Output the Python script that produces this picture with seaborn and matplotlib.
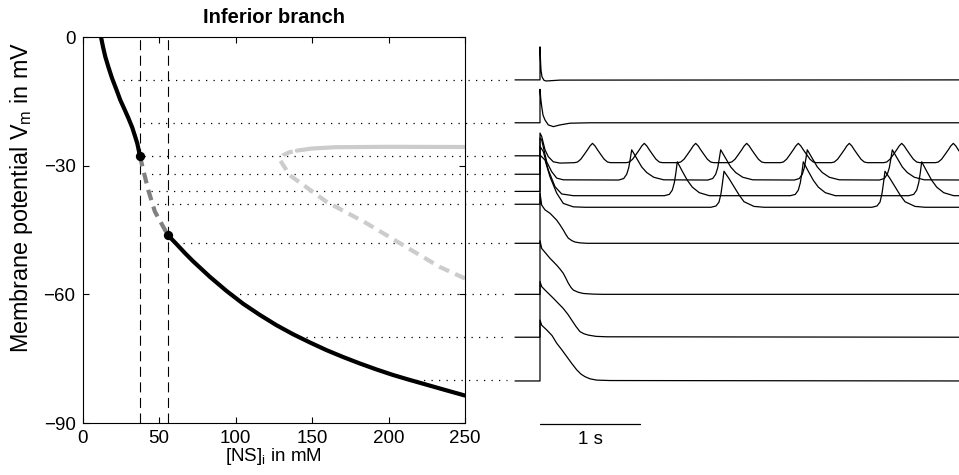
import numpy as np
import pandas as pd
import matplotlib
matplotlib.use("Agg")
import matplotlib.pyplot as plt
import seaborn as sns

# ---------------- data: left panel (bifurcation diagram) ----------------
x_ticks = [0, 50, 100, 150, 200, 250]
y_ticks = [-90, -60, -30, 0]

upper_ns = [12.1, 13.4, 14.9, 17.1, 19.3, 22.1, 24.7, 27.5, 30.1, 32.5, 34.4, 35.8, 36.7, 37.5]
upper_v = [0.0, -2.3, -4.6, -7.2, -9.6, -12.2, -14.7, -16.9, -19.0, -21.1, -23.2, -24.8, -26.3, -27.7]

mid_ns = [37.5, 39.7, 43.0, 47.3, 52.7, 55.8]
mid_v = [-27.7, -31.0, -35.7, -40.7, -44.2, -46.2]

lower_ns = [55.8, 61.5, 67.0, 72.3, 83.2, 94.1, 105.0, 115.9, 126.8, 137.6, 148.5,
            159.4, 170.2, 181.1, 192.0, 202.9, 213.8, 224.7, 237.0, 250.0]
lower_v = [-46.2, -48.3, -50.4, -52.3, -55.9, -59.2, -62.2, -64.8, -67.2, -69.3, -71.2,
           -73.0, -74.6, -76.1, -77.5, -78.8, -79.95, -81.05, -82.3, -83.6]

lg_dash_ns = [250.0, 233.4, 209.4, 185.5, 159.4, 135.4, 128.9, 131.0, 135.0, 140.0]
lg_dash_v = [-56.3, -53.6, -48.5, -43.4, -38.4, -32.2, -28.6, -27.6, -26.9, -26.5]

lg_solid_ns = [140.0, 150.0, 165.0, 200.0, 250.0]
lg_solid_v = [-26.5, -26.0, -25.7, -25.6, -25.65]

fold_ns = [37.5, 55.8]
fold_v = [-27.7, -46.2]

levels = [-10, -20, -27.7, -32, -36, -39, -48, -60, -70, -80]
level_start_ns = [26.5, 39.5, 40.5, 40.5, 44.5, 48.5, 66.0, 97.5, 146.0, 218.0]
level_end_ns = 277.7

# ---------------- data: right panel (voltage traces, time in s) ----------------
tr10_t = [0, 0.005, 0.01, 0.02, 0.04, 0.06, 0.1, 0.2, 4.3]
tr10_v = [-2.3, -5.5, -7.7, -9.3, -10.1, -10.25, -10.2, -10.05, -10.0]

tr20_t = [0, 0.008, 0.017, 0.03, 0.05, 0.083, 0.133, 0.2, 0.3, 0.5, 4.3]
tr20_v = [-12.2, -14.5, -16.2, -18.2, -19.35, -20.5, -20.9, -20.5, -20.1, -20.0, -20.0]

tr27_t = [0, 0.017, 0.05, 0.083, 0.133, 0.2]
tr27_v = [-22.4, -23.2, -26.3, -27.9, -29.1, -29.4]
tr27_peaks = [0.525, 1.043, 1.557, 2.067, 2.583, 3.093, 3.617, 4.133]
hump_dt = [-0.18, -0.15, -0.117, -0.083, -0.05, -0.025, 0, 0.025, 0.05, 0.083, 0.117, 0.15, 0.18]
hump_v = [-29.3, -29.15, -28.5, -27.4, -26.3, -25.4, -24.8, -25.4, -26.3, -27.4, -28.5, -29.15, -29.3]

tr32_t = [0, 0.017, 0.067, 0.117, 0.167, 0.233]
tr32_v = [-23.5, -24.0, -29.1, -31.4, -32.9, -33.3]
tr32_peaks = [0.917, 1.807, 2.673, 3.523]
sp32_dt = [-0.13, -0.08, -0.05, -0.03, -0.015, 0, 0.05, 0.1, 0.15, 0.22, 0.32]
sp32_v = [-33.35, -33.0, -32.0, -30.5, -28.5, -26.3, -28.3, -30.3, -31.6, -32.7, -33.3]

tr36_t = [0, 0.033, 0.083, 0.15, 0.217, 0.333]
tr36_v = [-25.5, -26.7, -31.0, -34.9, -36.6, -37.0]
tr36_peaks = [1.373, 2.633, 3.817]
sp36_dt = [-0.13, -0.08, -0.05, -0.03, -0.015, 0, 0.05, 0.1, 0.15, 0.22, 0.32]
sp36_v = [-37.0, -36.7, -35.7, -34.0, -31.8, -29.1, -31.3, -33.4, -35.0, -36.3, -37.0]

tr39_t = [0, 0.05, 0.1, 0.167, 0.233, 0.333, 0.45]
tr39_v = [-27.5, -28.7, -32.6, -36.4, -38.8, -39.6, -39.7]
tr39_peaks = [1.84, 3.45]
sp39_dt = [-0.13, -0.08, -0.05, -0.03, -0.015, 0, 0.05, 0.1, 0.15, 0.2, 0.3, 0.4]
sp39_v = [-39.7, -39.4, -38.5, -36.5, -34.0, -31.3, -33.0, -34.9, -36.8, -38.4, -39.5, -39.7]

tr48_t = [0, 0.017, 0.05, 0.1, 0.167, 0.2, 0.233, 0.26, 0.283, 0.32, 0.35, 0.4, 0.467, 4.3]
tr48_v = [-36.4, -39.2, -40.3, -41.1, -42.7, -43.8, -45.0, -46.1, -46.9, -47.5, -47.8, -48.0, -48.1, -48.1]

tr60_t = [0, 0.017, 0.1, 0.167, 0.2, 0.233, 0.26, 0.283, 0.31, 0.333, 0.38, 0.433, 0.53, 0.63, 4.3]
tr60_v = [-47.5, -49.3, -51.6, -53.2, -54.1, -55.1, -56.3, -57.4, -58.4, -59.0, -59.5, -59.8, -59.95, -60.0, -60.0]

tr70_t = [0, 0.017, 0.05, 0.133, 0.233, 0.28, 0.317, 0.36, 0.4, 0.44, 0.483, 0.56, 0.667, 4.3]
tr70_v = [-57.0, -58.2, -59.0, -60.9, -63.3, -64.7, -66.0, -67.5, -68.7, -69.2, -69.5, -69.8, -69.9, -70.0]

tr80_t = [0, 0.017, 0.067, 0.12, 0.167, 0.217, 0.267, 0.317, 0.367, 0.41, 0.45, 0.5, 0.567, 0.7, 4.3]
tr80_v = [-66.0, -67.2, -68.3, -69.6, -71.4, -72.9, -74.5, -76.1, -77.6, -78.6, -79.2, -79.7, -80.0, -80.1, -80.2]

pre_stim_t = [-0.25, 0.0]
scalebar_t = [0.0, 1.0]
scalebar_v = -90.25


def assemble(level, t0, v0, peaks=None, dt=None, dv=None, settle=None):
    t = list(pre_stim_t) + list(t0)
    v = [level, level] + list(v0)
    if peaks:
        for p in peaks:
            t += [p + d for d in dt]
            v += list(dv)
        t.append(4.3)
        v.append(settle)
    return pd.DataFrame({"t": t, "v": v})


traces = [
    assemble(-10, tr10_t, tr10_v),
    assemble(-20, tr20_t, tr20_v),
    assemble(-27.7, tr27_t, tr27_v, tr27_peaks, hump_dt, hump_v, -29.3),
    assemble(-32, tr32_t, tr32_v, tr32_peaks, sp32_dt, sp32_v, -33.35),
    assemble(-36, tr36_t, tr36_v, tr36_peaks, sp36_dt, sp36_v, -37.0),
    assemble(-39, tr39_t, tr39_v, tr39_peaks, sp39_dt, sp39_v, -39.7),
    assemble(-48.1, tr48_t, tr48_v),
    assemble(-60, tr60_t, tr60_v),
    assemble(-70, tr70_t, tr70_v),
    assemble(-80.2, tr80_t, tr80_v),
]

# ---------------- styling ----------------
sns.set_theme(style="white")
plt.rcParams["font.family"] = ["Liberation Sans", "DejaVu Sans"]
plt.rcParams["mathtext.fontset"] = "custom"
plt.rcParams["mathtext.rm"] = "Liberation Sans"
plt.rcParams["mathtext.it"] = "Liberation Sans:italic"
plt.rcParams["axes.edgecolor"] = "black"
plt.rcParams["text.color"] = "black"
plt.rcParams["axes.labelcolor"] = "black"
plt.rcParams["xtick.color"] = "black"
plt.rcParams["ytick.color"] = "black"

W, H = 959, 475
fig = plt.figure(figsize=(W / 100, H / 100), dpi=100)
ax = fig.add_axes([82.5 / W, 1 - 423 / H, (465 - 82.5) / W, 386 / H])
ax2 = fig.add_axes([465 / W, 1 - 423 / H, (W - 465) / W, 386 / H])

# ---- left panel ----
for lv, xs in zip(levels, level_start_ns):
    ax.plot([xs, level_end_ns], [lv, lv], color="black", lw=0.9,
            ls=(0, (1, 5)), clip_on=False, zorder=1)

for xv in fold_ns:
    ax.axvline(xv, color="black", lw=0.8, ls=(0, (9, 5)), zorder=1)

sns.lineplot(x=lg_dash_ns, y=lg_dash_v, ax=ax, color="#cccccc", lw=3,
             sort=False, estimator=None, linestyle=(0, (2.6, 1.6)), zorder=2)
sns.lineplot(x=lg_solid_ns, y=lg_solid_v, ax=ax, color="#cccccc", lw=3,
             sort=False, estimator=None, zorder=2)
sns.lineplot(x=mid_ns, y=mid_v, ax=ax, color="#808080", lw=3,
             sort=False, estimator=None, linestyle=(0, (2.6, 1.6)), zorder=3)
sns.lineplot(x=upper_ns, y=upper_v, ax=ax, color="black", lw=3,
             sort=False, estimator=None, zorder=4)
sns.lineplot(x=lower_ns, y=lower_v, ax=ax, color="black", lw=3,
             sort=False, estimator=None, zorder=4)
sns.scatterplot(x=fold_ns, y=fold_v, ax=ax, color="black", s=45,
                edgecolor="black", linewidth=0, zorder=5)

ax.set_xlim(0, 250)
ax.set_ylim(-90, 0)
ax.set_xticks(x_ticks)
ax.set_yticks(y_ticks)
ax.tick_params(direction="in", length=4, width=0.8, colors="black",
               labelsize=13.5, top=True, right=True, bottom=True, left=True,
               pad=5)
for sp in ax.spines.values():
    sp.set_visible(True)
    sp.set_color("black")
    sp.set_linewidth(0.8)
ax.set_title("Inferior branch", fontsize=14.5, fontweight="bold", pad=10)
ax.set_xlabel(r"[NS]$_\mathrm{i}$ in mM", fontsize=13.5)
ax.set_ylabel(r"Membrane potential V$_\mathrm{m}$ in mV", fontsize=16.8)
ax.xaxis.set_label_coords(0.5, -0.06)
ax.yaxis.set_label_coords(-0.124, 0.584)

# ---- right panel ----
for df in traces:
    sns.lineplot(data=df, x="t", y="v", ax=ax2, color="black", lw=0.9,
                 sort=False, estimator=None)
ax2.plot(scalebar_t, [scalebar_v, scalebar_v], color="black", lw=0.9,
         clip_on=False)
ax2.text(0.5, -93.9, "1 s", ha="center", va="center", fontsize=13.5)
ax2.set_xlim(-0.75, 4.19)
ax2.set_ylim(-90, 0)
ax2.axis("off")

fig.savefig("out.png", dpi=100)
